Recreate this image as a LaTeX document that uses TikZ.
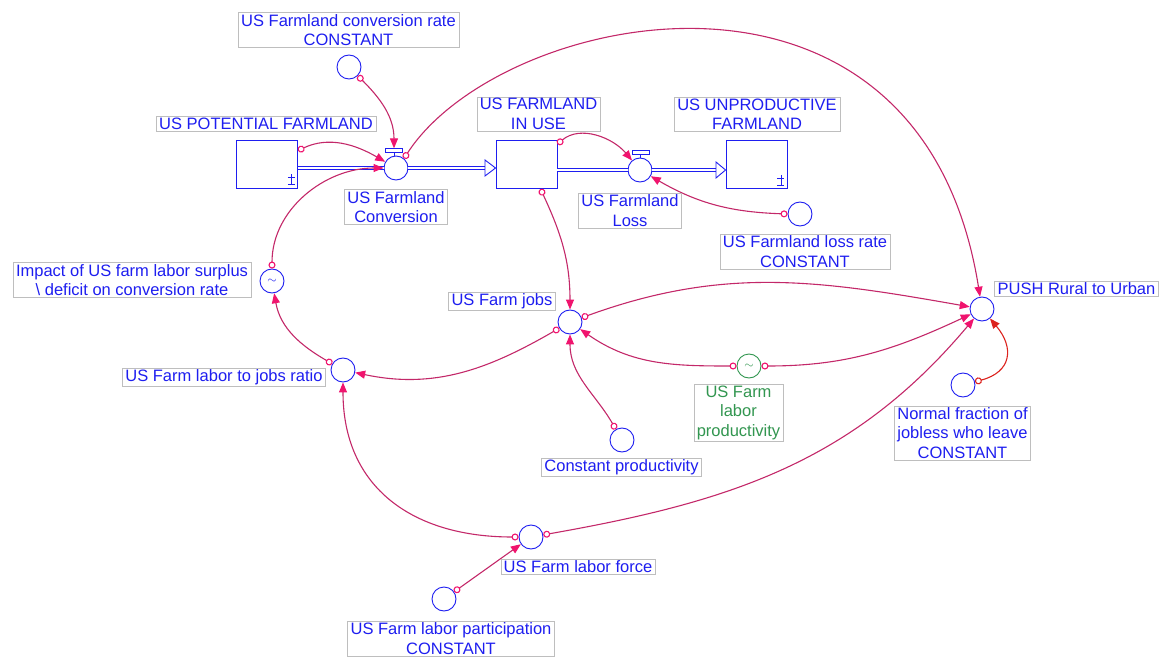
\documentclass[tikz,border=0pt]{standalone}
\usepackage{fontspec}
\setmainfont{Liberation Sans}
\usetikzlibrary{arrows.meta,calc}
\definecolor{tblue}{RGB}{30,30,240}
\definecolor{tgreen}{RGB}{50,150,80}
\definecolor{boxc}{RGB}{190,190,190}
\definecolor{linkc}{RGB}{195,40,105}
\definecolor{headc}{RGB}{240,20,110}
\definecolor{redc}{RGB}{220,35,30}
\tikzset{
  lbl/.style={draw=boxc, fill=white, text=tblue, font=\fontsize{16.5}{19.5}\selectfont, align=center, inner xsep=3pt, inner ysep=1.5pt},
  aux/.style={circle, draw=tblue, line width=0.9pt, minimum size=24pt, inner sep=0pt},
  stock/.style={rectangle, draw=tblue, line width=0.9pt, minimum width=61pt, minimum height=48pt, inner sep=0pt},
  vbar/.style={rectangle, draw=tblue, line width=0.8pt, minimum width=17pt, minimum height=3.5pt, inner sep=0pt},
  pipe/.style={draw=tblue, line width=0.9pt, double=white, double distance=2.6pt},
  link/.style={draw=linkc, line width=1.1pt, {Circle[open,length=7pt,width=7pt,line width=1.1pt,color=headc]}-{Triangle[length=10pt,width=8pt,color=headc]}},
  redlink/.style={draw=redc, line width=1.1pt, {Circle[open,length=7pt,width=7pt,line width=1.1pt,color=redc]}-{Triangle[length=10pt,width=8pt,color=redc]}},
  tilde/.style={font=\fontsize{13}{13}\selectfont}
}
\begin{document}
\begin{tikzpicture}[x=1pt,y=-1pt]
\useasboundingbox (0,0) rectangle (1160,658);

% stocks
\node[stock] (pot) at (267,164) {};
\node[stock] (inuse) at (526.5,164.5) {};
\node[stock] (unprod) at (756.5,164.5) {};

% valves
\node[aux] (cv) at (396,168) {};
\node[vbar] (cvbar) at (394,150.5) {};
\draw[tblue, line width=0.9pt] (cvbar.south) -- (cv.north -| cvbar.south);
\node[aux] (lv) at (640,170) {};
\node[vbar] (lvbar) at (640.5,152.5) {};
\draw[tblue, line width=0.9pt] (lvbar.south) -- (lv.north -| lvbar.south);

% auxiliaries
\node[aux] (cvrate) at (349,67) {};
\node[aux] (lossrate) at (800,214) {};
\node[aux, tilde, text=tblue] (impact) at (272,281) {$\sim$};
\node[aux] (ratio) at (343,370) {};
\node[aux] (jobs) at (570,322) {};
\node[aux, tilde, draw=tgreen, text=tgreen] (prod) at (749,366) {$\sim$};
\node[aux] (cprod) at (622,440) {};
\node[aux] (push) at (982,309) {};
\node[aux] (normal) at (963,385) {};
\node[aux] (lforce) at (531,537) {};
\node[aux] (part) at (444,599) {};

% pipes
\coordinate (p1a) at (pot.east |- cv);
\coordinate (p1b) at (485,168);
\coordinate (p2a) at (inuse.east |- lv);
\coordinate (p2b) at (716,170);
\draw[pipe] (p1a) -- (cv.west);
\draw[pipe] (cv.east) -- (p1b);
\draw[tblue, line width=0.9pt, fill=white] ($(p1b)+(0,-8)$) -- (inuse.west |- cv) -- ($(p1b)+(0,8)$) -- cycle;
\draw[pipe] (p2a) -- (lv.west);
\draw[pipe] (lv.east) -- (p2b);
\draw[tblue, line width=0.9pt, fill=white] ($(p2b)+(0,-8)$) -- (unprod.west |- lv) -- ($(p2b)+(0,8)$) -- cycle;

% stock symbols
\foreach \s in {pot, unprod}{
  \draw[tblue, line width=0.8pt] ($(\s.south east)+(-10,-11)$) -- ($(\s.south east)+(-3,-11)$)
     ($(\s.south east)+(-6.5,-14)$) -- ($(\s.south east)+(-6.5,-4)$)
     ($(\s.south east)+(-10,-4)$) -- ($(\s.south east)+(-3,-4)$);
}

% connectors
\draw[link] ([yshift=-11pt]pot.north east) to[out=25,in=150] (cv);
\draw[link] (cvrate.-45) to[out=-45,in=90] (cvbar);
\draw[link] (cv.50) .. controls (500,10) and (920,-80) .. (push);
\draw[link] (impact.90) to[out=90,in=180] (cv);
\draw[link] ([yshift=-4pt]inuse.north east) to[out=40,in=130] (lv);
\draw[link] (lossrate.180) to[out=178,in=-30] (lv);
\draw[link] ([xshift=14pt]inuse.south) to[out=-65,in=90] (jobs);
\draw[link] (jobs.20) to[out=20,in=170] (push);
\draw[link] (prod.0) to[out=0,in=205] (push);
\draw[link] (prod.180) to[out=180,in=-35] (jobs);
\draw[link] (jobs.210) to[out=210,in=-12] (ratio);
\draw[link] (ratio.150) to[out=150,in=-80] (impact);
\draw[link] (cprod.120) to[out=120,in=-90] (jobs);
\draw[link] (lforce.180) to[out=180,in=-90,looseness=1.15] (ratio);
\draw[link] (lforce.10) to[out=10,in=230] (push);
\draw[link] (part) -- (lforce);
\draw[redlink] (normal.15) to[out=15,in=-50,looseness=1.5] (push);

% labels
\node[lbl] (lpot) at (266,124) {US POTENTIAL FARMLAND};
\node[lbl] (lcvrate) at (348.5,30) {US Farmland conversion rate\\CONSTANT};
\node[lbl] (lcv) at (396,207) {US Farmland\\Conversion};
\node[lbl] (linuse) at (538.5,114) {US FARMLAND\\IN USE};
\node[lbl] (lunprod) at (757,114) {US UNPRODUCTIVE\\FARMLAND};
\node[lbl] (llv) at (630,210.5) {US Farmland\\Loss};
\node[lbl] (llossrate) at (805,251.5) {US Farmland loss rate\\CONSTANT};
\node[lbl] (limpact) at (132,280) {Impact of US farm labor surplus\\\textbackslash{} deficit on conversion rate};
\node[lbl] (lratio) at (224,377.5) {US Farm labor to jobs ratio};
\node[lbl] (ljobs) at (502,301.5) {US Farm jobs};
\node[lbl, text=tgreen] (lprod) at (738.5,412.5) {US Farm\\labor\\productivity};
\node[lbl] (lcprod) at (621.5,467.5) {Constant productivity};
\node[lbl] (lpush) at (1076.5,288.5) {PUSH Rural to Urban};
\node[lbl] (lnormal) at (962.5,433) {Normal fraction of\\jobless who leave\\CONSTANT};
\node[lbl] (llforce) at (578,566.5) {US Farm labor force};
\node[lbl] (lpart) at (451,638.5) {US Farm labor participation\\CONSTANT};
\end{tikzpicture}
\end{document}
